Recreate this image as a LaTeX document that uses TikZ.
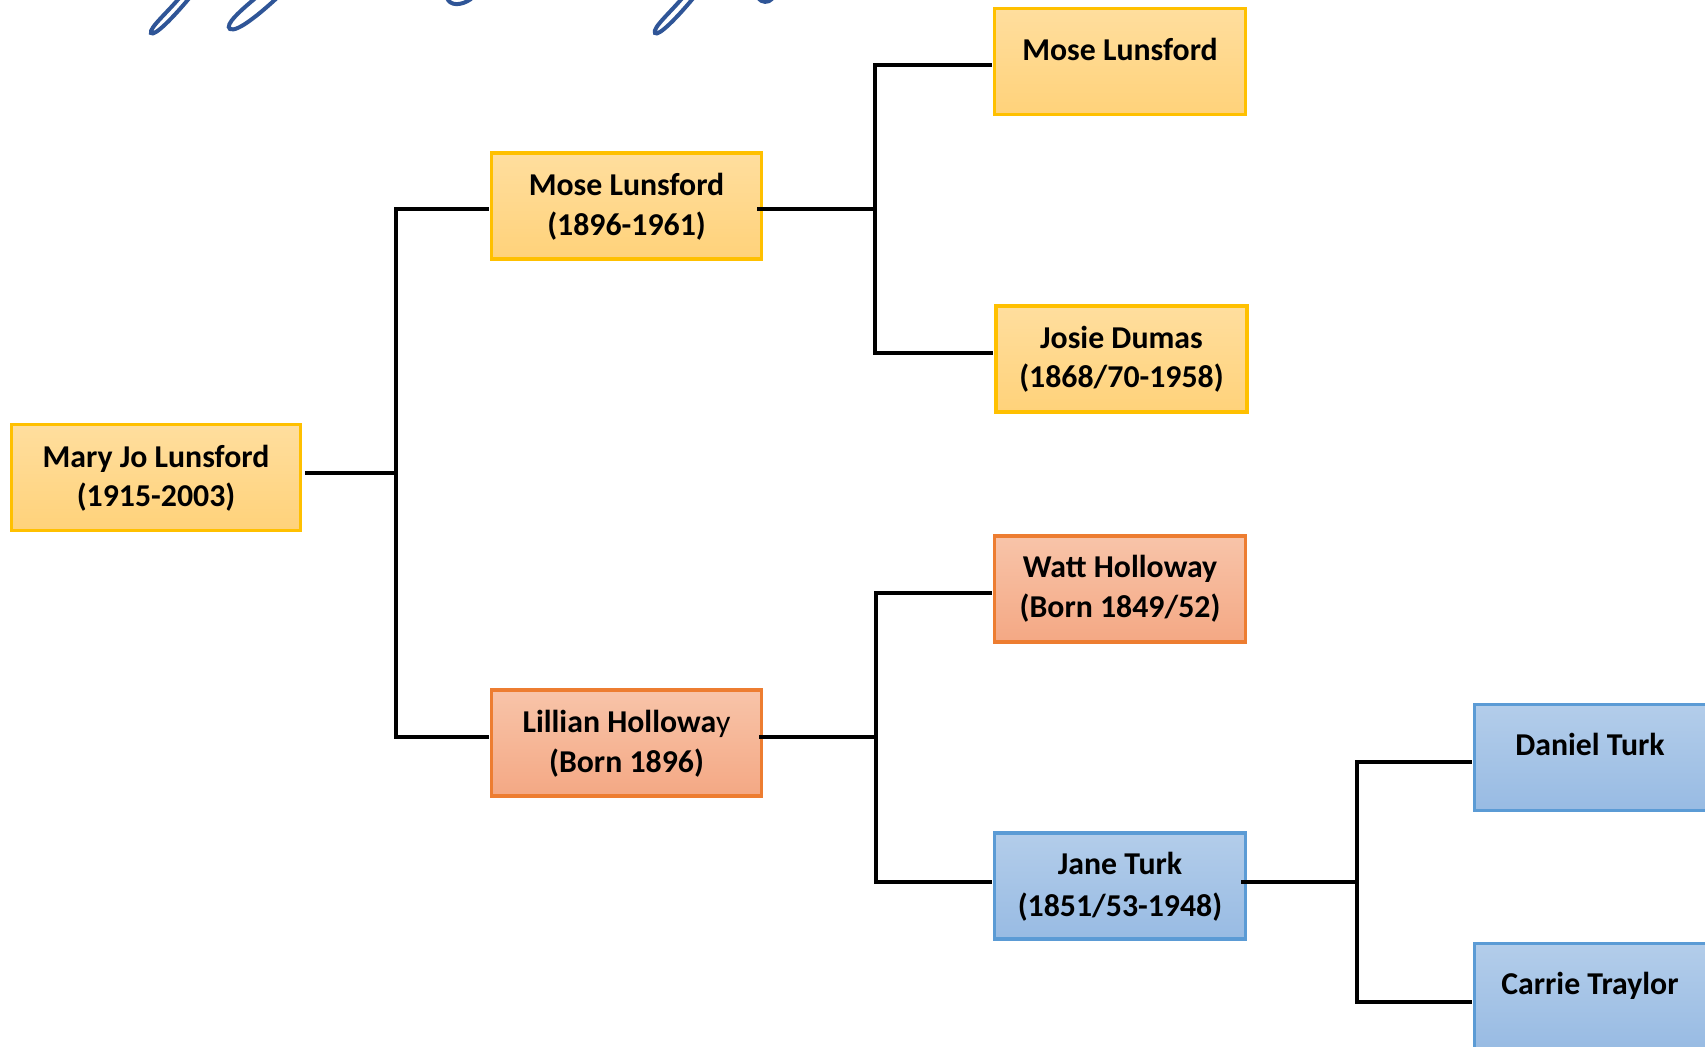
\documentclass[tikz,border=0pt]{standalone}
\usepackage{fontspec}
\setmainfont{Carlito}
\usetikzlibrary{shadings,calc}
\definecolor{ylwB}{HTML}{FFC000}
\definecolor{ylwT}{HTML}{FFDE9E}
\definecolor{ylwD}{HTML}{FFD27A}
\definecolor{orgB}{HTML}{ED7D31}
\definecolor{orgT}{HTML}{F8C4A9}
\definecolor{orgD}{HTML}{F4A884}
\definecolor{bluB}{HTML}{5B9BD5}
\definecolor{bluT}{HTML}{B3CDEA}
\definecolor{bluD}{HTML}{98BBE3}
\definecolor{scrC}{HTML}{2F5597}
\tikzset{
  box/.style={rectangle, line width=1.7pt, minimum height=53pt, inner sep=0pt},
  ybox/.style={box, draw=ylwB, top color=ylwT, bottom color=ylwD},
  obox/.style={box, draw=orgB, top color=orgT, bottom color=orgD},
  bbox/.style={box, draw=bluB, top color=bluT, bottom color=bluD},
  nm/.style={anchor=base, inner sep=0pt, font=\fontsize{15.9pt}{19pt}\selectfont\bfseries},
  conn/.style={line width=1.7pt, black},
  scr/.style={line width=2pt, scrC, line cap=round}
}
\begin{document}
\begin{tikzpicture}[x=0.5pt,y=-0.5pt]
\useasboundingbox (0,0) rectangle (1705,1047);
\clip (0,0) rectangle (1705,1047);
\fill[white] (0,0) rectangle (1705,1047);

% script title remnants
\draw[scr] (181,-4) .. controls (168,12) and (149,28) .. (151,33) .. controls (154,37) and (173,18) .. (191,-4);
\draw[scr] (258,-4) .. controls (241,10) and (224,25) .. (230,29) .. controls (237,33) and (262,12) .. (279,-4);
\draw[scr] (447,-2) .. controls (450,6) and (461,6) .. (471,-1);
\draw[scr] (684,-4) .. controls (671,12) and (652,28) .. (655,33) .. controls (658,37) and (677,18) .. (695,-4);
\draw[scr] (758,-2) .. controls (762,3) and (768,3) .. (772,-1);

% boxes
\node[ybox, minimum width=144.5pt] (mary) at (156,477.5) {};
\node[ybox, minimum width=135pt] (mose1) at (626.5,206) {};
\node[obox, minimum width=135pt] (lil) at (626.5,743) {};
\node[ybox, minimum width=125.5pt] (mose2) at (1120,61.5) {};
\node[ybox, minimum width=125.5pt] (josie) at (1121.5,359) {};
\node[obox, minimum width=125.5pt] (watt) at (1120,589) {};
\node[bbox, minimum width=125.5pt] (jane) at (1120,886) {};
\node[bbox, minimum width=125.5pt] (dan) at (1600,757.5) {};
\node[bbox, minimum width=125.5pt] (car) at (1600,996.5) {};

% texts
\node[nm] (maryA) at (156,468) {Mary Jo Lunsford};
\node[nm] (maryB) at (156,507) {(1915-2003)};
\node[nm] (mose1A) at (626.5,196) {Mose Lunsford};
\node[nm] (mose1B) at (626.5,236) {(1896-1961)};
\node[nm] (lilA) at (626.5,733) {Lillian Hollowa{\mdseries y}};
\node[nm] (lilB) at (626.5,773) {(Born 1896)};
\node[nm] (mose2A) at (1120,61) {Mose Lunsford};
\node[nm] (josieA) at (1121.5,349) {Josie Dumas};
\node[nm] (josieB) at (1121.5,388) {(1868/70-1958)};
\node[nm] (wattA) at (1120,578) {Watt Holloway};
\node[nm] (wattB) at (1120,618) {(Born 1849/52)};
\node[nm] (janeA) at (1120,875) {Jane Turk};
\node[nm] (janeB) at (1120,917) {(1851/53-1948)};
\node[nm] (danA) at (1590,756) {Daniel Turk};
\node[nm] (carA) at (1590,995) {Carrie Traylor};

% connection points (line heights as in the picture)
\coordinate (maryP) at ($(mary.east)+(3,-4.5)$);
\coordinate (mose1L) at ($(mose1.west)+(-1,3)$);
\coordinate (mose1R) at ($(mose1.east)+(-6,3)$);
\coordinate (lilL) at ($(lil.west)+(-1,-6)$);
\coordinate (lilR) at ($(lil.east)+(-4,-6)$);
\coordinate (mose2L) at ($(mose2.west)+(-1,3.5)$);
\coordinate (josieL) at ($(josie.west)+(-1,-6)$);
\coordinate (wattL) at ($(watt.west)+(-1,4)$);
\coordinate (janeL) at ($(jane.west)+(-1,-4)$);
\coordinate (janeR) at ($(jane.east)+(-6,-4)$);
\coordinate (danL) at ($(dan.west)+(-1,4.5)$);
\coordinate (carL) at ($(car.west)+(-1,5.5)$);

% junction x positions
\coordinate (j0) at (396,0);
\coordinate (j1) at (875,0);
\coordinate (j2) at (876,0);
\coordinate (j3) at (1357,0);

% connectors
\draw[conn] (maryP) -- (maryP -| j0);
\draw[conn] (mose1L) -- (mose1L -| j0) |- (lilL);
\draw[conn] (mose1R) -- (mose1R -| j1);
\draw[conn] (mose2L) -- (mose2L -| j1) |- (josieL);
\draw[conn] (lilR) -- (lilR -| j2);
\draw[conn] (wattL) -- (wattL -| j2) |- (janeL);
\draw[conn] (janeR) -- (janeR -| j3);
\draw[conn] (danL) -- (danL -| j3) |- (carL);
\end{tikzpicture}
\end{document}
